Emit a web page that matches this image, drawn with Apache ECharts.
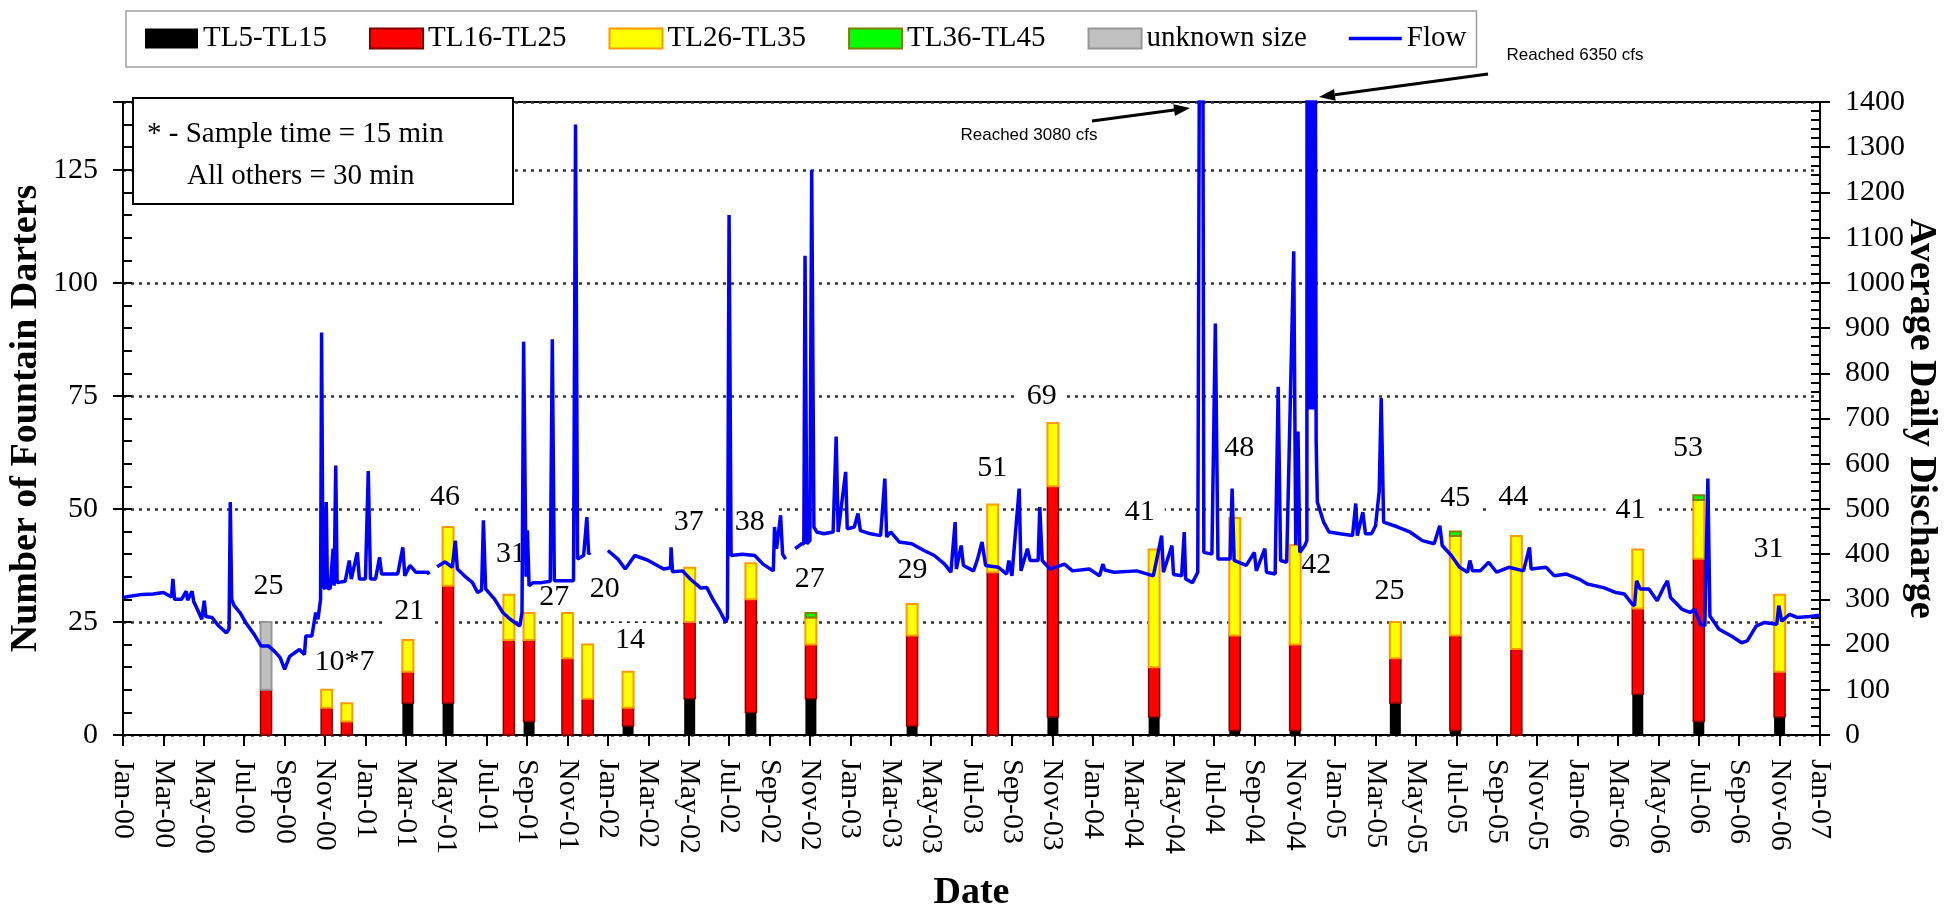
<!DOCTYPE html>
<html><head><meta charset="utf-8">
<script src="https://cdn.jsdelivr.net/npm/echarts@6/dist/echarts.min.js"></script>
<style>html,body{margin:0;padding:0;background:#fff}#c{width:1944px;height:911px}</style>
</head><body><div id="c"></div><script>
// ---- data (x = months since Jan-2000) ----
var tickLabels = ['Jan-00','Mar-00','May-00','Jul-00','Sep-00','Nov-00','Jan-01','Mar-01','May-01','Jul-01','Sep-01','Nov-01',
  'Jan-02','Mar-02','May-02','Jul-02','Sep-02','Nov-02','Jan-03','Mar-03','May-03','Jul-03','Sep-03','Nov-03',
  'Jan-04','Mar-04','May-04','Jul-04','Sep-04','Nov-04','Jan-05','Mar-05','May-05','Jul-05','Sep-05','Nov-05',
  'Jan-06','Mar-06','May-06','Jul-06','Sep-06','Nov-06','Jan-07'];
var barMonth = [7.08,10.08,11.08,14.1,16.09,19.1,20.1,22.0,23.0,25.0,28.05,31.08,34.05,39.06,43.05,46.03,51.04,55.03,58.02,62.98,65.95,68.97,74.98,78.0,82.0];
var tl5_15  = [0,0,0,7,7,0,3,0,0,2,8,5,8,2,0,4,4,1,1,7,1,0,9,3,4];
var tl16_25 = [10,6,3,7,26,21,18,17,8,4,17,25,12,20,36,51,11,21,19,10,21,19,19,36,10];
var tl26_35 = [0,4,4,7,13,10,6,10,12,8,12,8,6,7,15,14,26,26,22,8,22,25,13,13,17];
var tl36_45 = [0,0,0,0,0,0,0,0,0,0,0,0,1,0,0,0,0,0,0,0,1,0,0,1,0];
var unknownSize = [15,0,0,0,0,0,0,0,0,0,0,0,0,0,0,0,0,0,0,0,0,0,0,0,0];
var labelText  = ['25','10*7','21','46','31','27','20','14','37','38','27','29','51','69','41','48','42','25','45','44','41','53','31'];
var labelMonth = [7.2,10.97,14.17,15.94,19.2,21.35,23.85,25.1,28.0,31.02,33.99,39.08,43.03,45.48,50.33,55.25,59.06,62.69,65.95,68.81,74.62,77.47,81.45];
var labelY     = [33.0,16.1,27.3,52.7,39.9,30.4,32.3,21.0,47.0,47.1,34.5,36.4,59.0,74.9,49.3,63.4,37.5,31.9,52.3,52.7,49.7,63.4,41.2];
var flowMonth = [0,0.5,0.95,1.5,2,2.4,2.47,2.55,2.9,3.13,3.2,3.42,3.5,3.6,3.9,4.02,4.1,4.4,4.74,5.12,5.25,5.31,5.38,5.5,5.8,6.07,6.5,6.83,7.2,7.5,7.78,8,8.25,8.73,8.98,9.05,9.35,9.54,9.65,9.78,9.83,9.9,10,10.06,10.12,10.25,10.4,10.45,10.53,10.6,11,11.2,11.3,11.6,11.7,12,12.14,12.25,12.5,12.7,12.8,13.2,13.6,13.85,13.95,14.2,14.5,15.1,15.15,15.3,15.55,15.94,16.3,16.45,16.55,16.9,17.3,17.55,17.75,17.84,17.95,18.4,18.8,19.17,19.64,19.75,19.83,19.95,20.02,20.1,20.3,20.7,21.15,21.25,21.35,22,22.3,22.4,22.5,22.8,22.96,23.05,23.12,23.5,24,24.5,24.86,25.33,26,26.76,27.1,27.13,27.2,27.7,28.08,28.6,28.9,29.2,29.5,29.84,29.92,30,30.1,30.65,31.27,31.68,32.19,32.25,32.35,32.55,32.65,32.8,33,33.27,33.6,33.7,33.76,33.85,34,34.09,34.2,34.34,34.7,35.15,35.3,35.4,35.77,35.85,36.2,36.38,36.5,37,37.5,37.71,37.8,38,38.42,39.04,39.65,40.16,40.67,40.98,41.19,41.25,41.49,41.6,42.1,42.3,42.52,42.7,43.33,43.74,43.85,44,44.36,44.45,44.77,44.9,45.3,45.38,45.5,45.89,46.6,47,47.83,48.34,48.5,48.6,49.06,50.18,51,51.41,51.5,51.92,52,52.4,52.53,52.6,52.94,53.2,53.39,53.5,53.9,54.07,54.2,54.8,54.9,55,55.6,56,56.1,56.52,56.6,57.03,57.18,57.3,57.6,57.95,58.05,58.16,58.25,58.5,58.6,58.62,58.645,58.67,58.695,58.72,58.745,58.77,58.795,58.82,58.845,58.87,58.895,58.92,58.945,58.97,58.995,59.02,59.06,59.12,59.43,59.7,60.24,60.86,61.02,61.1,61.37,61.5,61.8,62,62.18,62.28,62.4,62.49,63.1,63.7,64.32,64.9,65.18,65.3,65.75,66.16,66.56,66.67,66.8,67.18,67.6,67.99,68.6,69.32,69.62,69.7,70.44,70.85,71.45,72.07,72.48,73.29,73.9,74.31,74.72,74.82,74.92,75.1,75.53,75.94,76.3,76.45,76.6,77.17,77.57,77.8,78.08,78.3,78.45,78.55,79,79.61,80.12,80.4,80.84,81.25,81.86,81.96,82.1,82.5,82.87,83.49,84];
var flowCfs = [304,308,311,312,315,305,345,300,300,318,298,318,295,286,256,297,262,260,241,226,235,515,300,286,270,249,222,197,197,185,171,145,174,189,178,219,219,271,256,300,890,330,323,515,325,323,412,330,596,337,340,386,345,404,345,345,584,345,345,393,356,356,356,415,352,375,360,360,355,null,372,383,371,430,367,352,337,315,320,475,323,300,271,256,241,271,870,350,453,330,337,337,340,875,341,341,341,1350,389,397,482,400,404,null,408,389,367,397,386,367,370,415,361,363,345,325,326,300,278,249,260,1150,397,400,397,378,363,460,412,486,400,389,null,412,423,423,1060,423,430,1250,460,449,445,449,660,449,582,456,460,490,452,445,441,567,438,449,427,423,408,397,378,360,471,367,419,375,363,389,427,375,371,356,386,352,545,363,412,386,386,504,386,367,378,363,367,352,378,365,360,363,352,441,360,419,355,352,449,345,337,360,3080,404,400,910,389,389,545,386,375,404,363,412,360,356,770,386,382,1070,420,671,404,419,430,3000,720,6350,720,4000,720,3500,720,3000,720,2500,720,2200,720,2000,720,1500,650,515,471,449,445,441,512,441,493,445,445,463,538,745,471,471,460,449,430,423,463,419,397,371,360,386,363,363,382,360,371,363,415,367,371,352,356,345,334,326,315,312,289,286,341,323,323,297,330,341,304,278,271,278,245,241,567,263,234,219,204,208,241,249,245,286,252,267,260,262,265];

// ---- chart ----
var SERIF = 'Liberation Serif';
var stackOrder = [tl5_15, tl16_25, tl26_35, tl36_45, unknownSize];
function stackRows(level){
  return barMonth.map(function(m,i){
    var base = 0; for (var k=0;k<level;k++) base += stackOrder[k][i];
    return [m, base, base + stackOrder[level][i]];
  });
}
function renderSeg(params, api){
  var x = api.value(0), y0 = api.value(1), y1 = api.value(2);
  if (!(y1 > y0)) return null;
  var p0 = api.coord([x, y0]), p1 = api.coord([x, y1]), w = 11;
  return { type: 'rect', shape: { x: p0[0]-w/2, y: p1[1], width: w, height: p0[1]-p1[1] }, style: api.style() };
}
function segSeries(name, level, color, border, bw){
  return { name: name, type: 'custom', renderItem: renderSeg, data: stackRows(level),
    encode: { x: 0, y: [1,2] }, itemStyle: { color: color, borderColor: border, borderWidth: bw }, silent: true, z: 3 };
}
function arrow(x1,y1,x2,y2){
  var dx=x2-x1, dy=y2-y1, L=Math.sqrt(dx*dx+dy*dy), ux=dx/L, uy=dy/L, h=16, w=6;
  var bx=x2-ux*h, by=y2-uy*h;
  return [
    {type:'line', z:100, shape:{x1:x1,y1:y1,x2:bx,y2:by}, style:{stroke:'#000',lineWidth:3}},
    {type:'polygon', z:100, shape:{points:[[x2,y2],[bx-uy*w,by+ux*w],[bx+uy*w,by-ux*w]]}, style:{fill:'#000'}}
  ];
}
var chart = echarts.init(document.getElementById('c'), null, {renderer:'canvas'});
var gridLine = { show: true, lineStyle: { color: '#333', width: 2.5, type: [3,5] } };
var flowIcon = 'path://M0,0L0.01,0L0,0.01Z M0,8.2L53,8.2L53,11.8L0,11.8Z M53,20L52.99,20L53,19.99Z';
var option = {
  animation: false,
  backgroundColor: '#fff',
  textStyle: { fontFamily: SERIF, color: '#000' },
  grid: { left: 123, right: 124, top: 102, bottom: 176, containLabel: false, outerBoundsMode: 'none',
    show: true, borderColor: '#000', borderWidth: 2, backgroundColor: 'transparent' },
  legend: {
    left: 126, top: 11, padding: [13, 10, 14, 19], itemGap: 42, itemWidth: 53, itemHeight: 20,
    borderColor: '#a0a0a0', borderWidth: 1.5, backgroundColor: '#fff',
    textStyle: { fontFamily: SERIF, fontSize: 29, color: '#000' },
    data: [ {name:'TL5-TL15', icon:'rect'}, {name:'TL16-TL25', icon:'rect'}, {name:'TL26-TL35', icon:'rect'},
            {name:'TL36-TL45', icon:'rect'}, {name:'unknown size', icon:'rect'}, {name:'Flow', icon: flowIcon} ]
  },
  xAxis: {
    type: 'value', min: 0, max: 84, interval: 2,
    name: 'Date', nameLocation: 'middle', nameGap: 139, nameMoveOverlap: false,
    nameTextStyle: { fontFamily: SERIF, fontSize: 38, fontWeight: 'bold', color: '#000' },
    axisLine: { lineStyle: { color: '#000', width: 2 } },
    axisTick: { length: 11, lineStyle: { color: '#000', width: 2 } },
    axisLabel: { rotate: -90, margin: 24, fontFamily: SERIF, fontSize: 30, color: '#000',
      formatter: function(v){ return tickLabels[Math.round(v/2)] || ''; } },
    splitLine: { show: false }
  },
  yAxis: [
    { type: 'value', position: 'left', min: 0, max: 140, interval: 25,
      name: 'Number of Fountain Darters', nameLocation: 'middle', nameRotate: 90, nameGap: 78, nameMoveOverlap: false,
      nameTextStyle: { fontFamily: SERIF, fontSize: 38, fontWeight: 'bold', color: '#000' },
      axisLine: { show: true, lineStyle: { color: '#000', width: 2 } },
      axisTick: { show: true, inside: true, length: 9, lineStyle: { color: '#000', width: 2 } },
      minorTick: { show: true, splitNumber: 5, length: 9, lineStyle: { color: '#000', width: 2 } },
      axisLabel: { margin: 25, fontFamily: SERIF, fontSize: 30, color: '#000',
        formatter: function(v){ return v > 125 ? '' : String(v); } },
      splitLine: gridLine },
    { type: 'value', position: 'right', min: 0, max: 1400, interval: 100,
      name: 'Average Daily Discharge', nameLocation: 'middle', nameRotate: -90, nameGap: 82, nameMoveOverlap: false,
      nameTextStyle: { fontFamily: SERIF, fontSize: 38, fontWeight: 'bold', color: '#000' },
      axisLine: { show: true, lineStyle: { color: '#000', width: 2 } },
      axisTick: { show: true, inside: true, length: 9, lineStyle: { color: '#000', width: 2 } },
      minorTick: { show: true, splitNumber: 5, length: 9, lineStyle: { color: '#000', width: 2 } },
      axisLabel: { margin: 25, fontFamily: SERIF, fontSize: 30, color: '#000', formatter: function(v){ return String(v); } },
      splitLine: { show: false } },
    { type: 'value', position: 'left', min: 0, max: 140, interval: 25,
      axisLine: { show: false }, axisLabel: { show: false }, splitLine: { show: false },
      axisTick: { show: true, inside: false, length: 10, lineStyle: { color: '#000', width: 2 } } },
    { type: 'value', position: 'right', min: 0, max: 1400, interval: 100,
      axisLine: { show: false }, axisLabel: { show: false }, splitLine: { show: false },
      axisTick: { show: true, inside: false, length: 10, lineStyle: { color: '#000', width: 2 } } }
  ],
  series: [
    { name: 'labels', type: 'custom', silent: true, z: 2,
      data: labelMonth.map(function(m,i){ return [m, labelY[i]]; }),
      encode: { x: 0, y: 1 },
      renderItem: function(params, api){
        var p = api.coord([api.value(0), api.value(1)]);
        return { type: 'text', x: p[0], y: p[1], style: { text: labelText[params.dataIndex],
          font: '30px "Liberation Serif"', fill: '#000', align: 'center', verticalAlign: 'middle',
          backgroundColor: '#fff', padding: [2, 10] } };
      } },
    segSeries('TL5-TL15', 0, '#000000', '#000000', 0),
    segSeries('TL16-TL25', 1, '#FF0000', '#800000', 1.5),
    segSeries('TL26-TL35', 2, '#FFFF00', '#FF9900', 2),
    segSeries('TL36-TL45', 3, '#00FF00', '#808000', 2),
    segSeries('unknown size', 4, '#C0C0C0', '#969696', 2),
    { name: 'Flow', type: 'line', yAxisIndex: 1, symbol: 'none', showSymbol: false, connectNulls: false, clip: true,
      z: 5, silent: true, lineStyle: { color: '#0000FF', width: 3.5 }, itemStyle: { color: '#0000FF' },
      data: flowMonth.map(function(m,i){ return [m, flowCfs[i]]; }) }
  ],
  graphic: [
    { type: 'rect', z: 100, shape: { x: 133, y: 98, width: 380, height: 106 }, style: { fill: '#fff', stroke: '#000', lineWidth: 2 } },
    { type: 'text', z: 101, x: 147, y: 134, style: { text: '* - Sample time = 15 min', font: '29px "Liberation Serif"', fill: '#000', verticalAlign: 'middle' } },
    { type: 'text', z: 101, x: 187, y: 176, style: { text: 'All others = 30 min', font: '29px "Liberation Serif"', fill: '#000', verticalAlign: 'middle' } },
    { type: 'text', z: 101, x: 1029, y: 135, style: { text: 'Reached 3080 cfs', font: '17px "Liberation Sans"', fill: '#000', align: 'center', verticalAlign: 'middle' } },
    { type: 'text', z: 101, x: 1575, y: 55, style: { text: 'Reached 6350 cfs', font: '17px "Liberation Sans"', fill: '#000', align: 'center', verticalAlign: 'middle' } }
  ].concat(arrow(1092,121,1190,108)).concat(arrow(1488,74,1319,97))
};
chart.setOption(option);
</script></body></html>
